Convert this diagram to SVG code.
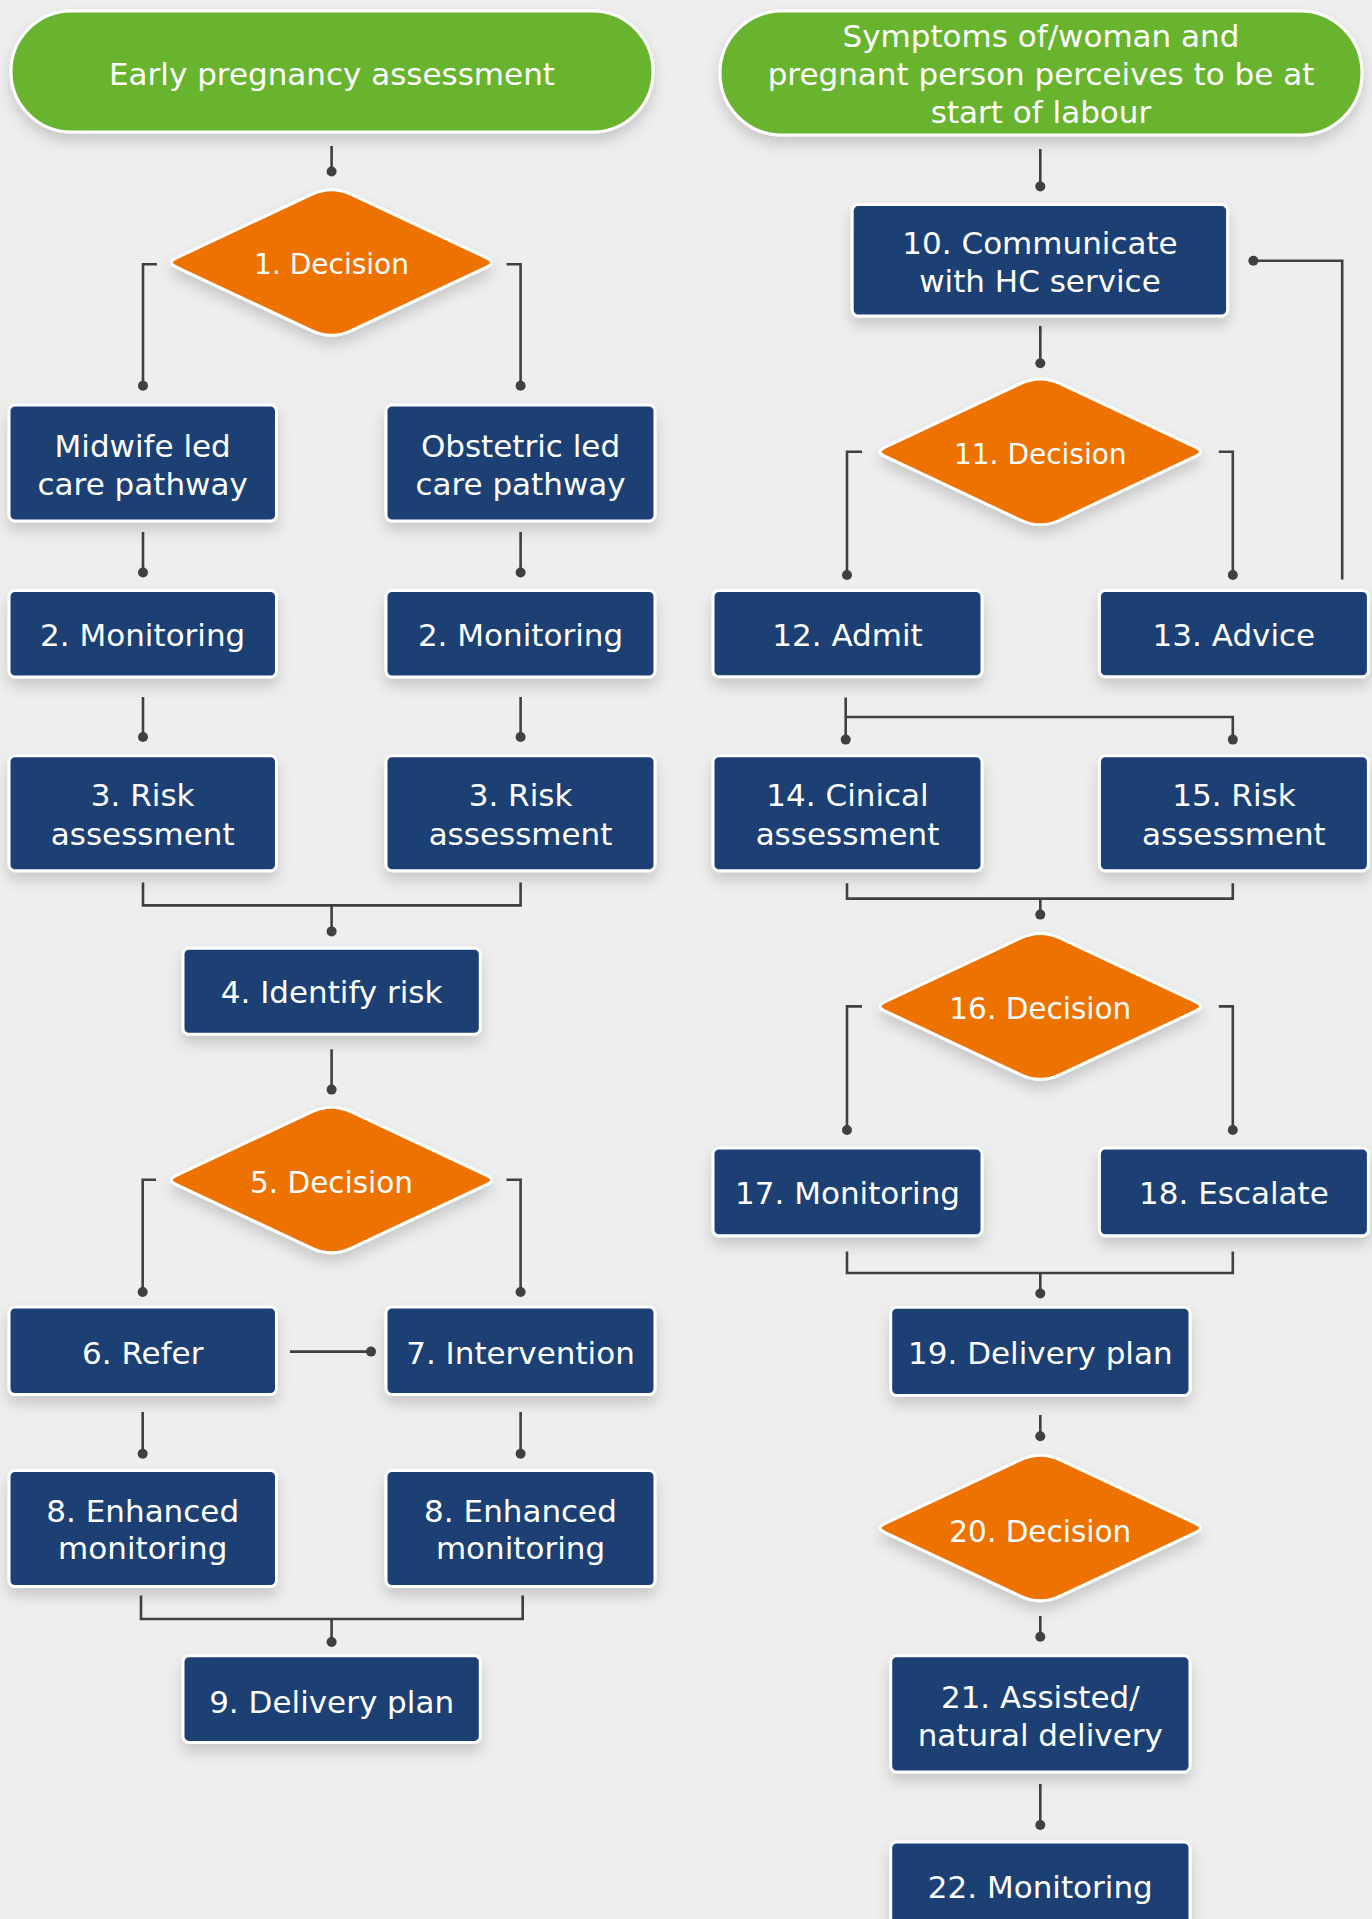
<svg xmlns="http://www.w3.org/2000/svg" xmlns:xlink="http://www.w3.org/1999/xlink" width="1372" height="1919" viewBox="0 0 1372 1919">
<style>
.bg{fill:#eeeeee}
.pill{fill:#68b42f;stroke:#ffffff;stroke-width:3;filter:url(#sh)}
.box{fill:#1c4073;stroke:#ffffff;stroke-width:3;filter:url(#sh)}
.dia{fill:#ee7203;stroke:#ffffff;stroke-width:3;filter:url(#sh)}
.t{fill:#ffffff;font-family:"DejaVu Sans","Liberation Sans",sans-serif;font-size:31px;text-anchor:middle}
.td{font-size:28px}
.tw{font-size:29.5px}
.c{fill:none;stroke:#404040;stroke-width:2.6}
.cd{marker-end:url(#dot)}
</style>
<defs>
<filter id="sh" x="-20%" y="-20%" width="140%" height="150%">
<feDropShadow dx="0" dy="8" stdDeviation="7" flood-color="#000000" flood-opacity="0.16"/>
</filter>
<marker id="dot" viewBox="-6 -6 12 12" markerWidth="12" markerHeight="12" markerUnits="userSpaceOnUse" refX="0" refY="0" orient="auto">
<circle r="5" fill="#404040"/>
</marker>
<path id="diamond" d="M-19.8,-68.2 Q0,-77.5 19.8,-68.2 L155.1,-4.65 Q165,0 155.1,4.65 L19.8,68.2 Q0,77.5 -19.8,68.2 L-155.1,4.65 Q-165,0 -155.1,-4.65 Z"/>
</defs>
<rect class="bg" x="0" y="0" width="1372" height="1919"/>

<g id="connectors">
<path class="c cd" d="M331.6,146 V171.5"/>
<path class="c cd" d="M157,264.3 H143 V385.7"/>
<path class="c cd" d="M506.5,264.3 H520.6 V385.7"/>
<path class="c cd" d="M143,532 V572.5"/>
<path class="c cd" d="M520.6,532 V572.5"/>
<path class="c cd" d="M143,697 V737"/>
<path class="c cd" d="M520.6,697 V737"/>
<path class="c" d="M143,882.5 V905.4 H520.6 V882.5"/>
<path class="c cd" d="M331.6,905.4 V931.4"/>
<path class="c cd" d="M331.6,1049.3 V1089.6"/>
<path class="c cd" d="M156,1179.7 H142.7 V1292"/>
<path class="c cd" d="M506.5,1179.7 H520.6 V1292"/>
<path class="c cd" d="M290,1351.6 H371"/>
<path class="c cd" d="M142.7,1412 V1453.7"/>
<path class="c cd" d="M520.6,1412 V1453.7"/>
<path class="c" d="M141,1595.5 V1619 H522.7 V1595.5"/>
<path class="c cd" d="M331.6,1619 V1642"/>

<path class="c cd" d="M1040.3,149 V186.4"/>
<path class="c cd" d="M1040.3,326 V363.2"/>
<path class="c cd" d="M1342.2,579.6 V260.7 H1253.4"/>
<path class="c cd" d="M862,451.8 H847 V575"/>
<path class="c cd" d="M1218.8,451.8 H1232.8 V575"/>
<path class="c cd" d="M845.7,697.5 V739.6"/>
<path class="c cd" d="M845.7,717 H1232.8 V739.6"/>
<path class="c" d="M847,883.2 V898.6 H1232.8 V883.2"/>
<path class="c cd" d="M1040.3,898.6 V914.6"/>
<path class="c cd" d="M862,1006.4 H847 V1130"/>
<path class="c cd" d="M1218.8,1006.4 H1232.8 V1130"/>
<path class="c" d="M847,1251.6 V1273 H1232.8 V1251.6"/>
<path class="c cd" d="M1040.3,1273 V1293.5"/>
<path class="c cd" d="M1040.3,1415 V1436.3"/>
<path class="c cd" d="M1040.3,1616 V1636.8"/>
<path class="c cd" d="M1040.3,1784 V1825"/>
</g>

<g id="start-early">
<rect class="pill" x="11" y="11" width="642" height="121" rx="60.5"/>
<text class="t" x="332" y="85">Early pregnancy assessment</text>
</g>
<g id="start-labour">
<rect class="pill" x="720" y="11" width="642" height="124" rx="62"/>
<text class="t" x="1041" y="46.5">Symptoms of/woman and</text>
<text class="t" x="1041" y="85">pregnant person perceives to be at</text>
<text class="t" x="1041" y="123">start of labour</text>
</g>

<g id="n1">
<use class="dia" xlink:href="#diamond" href="#diamond" x="331.5" y="262.5"/>
<text class="t td" x="331.5" y="274">1. Decision</text>
</g>
<g id="midwife">
<rect class="box" x="9" y="405" width="267.5" height="116" rx="6"/>
<text class="t" x="142.7" y="456.5">Midwife led</text>
<text class="t" x="142.7" y="494.5">care pathway</text>
</g>
<g id="obstetric">
<rect class="box" x="386" y="405" width="269" height="116" rx="6"/>
<text class="t" x="520.5" y="456.5">Obstetric led</text>
<text class="t" x="520.5" y="494.5">care pathway</text>
</g>
<g id="n2a">
<rect class="box" x="9" y="590.5" width="267.5" height="86.5" rx="6"/>
<text class="t" x="142.7" y="645.5">2. Monitoring</text>
</g>
<g id="n2b">
<rect class="box" x="386" y="590.5" width="269" height="86.5" rx="6"/>
<text class="t" x="520.5" y="645.5">2. Monitoring</text>
</g>
<g id="n3a">
<rect class="box" x="9" y="755.7" width="267.5" height="115" rx="6"/>
<text class="t" x="142.7" y="805.7">3. Risk</text>
<text class="t" x="142.7" y="844.5">assessment</text>
</g>
<g id="n3b">
<rect class="box" x="386" y="755.7" width="269" height="115" rx="6"/>
<text class="t" x="520.5" y="805.7">3. Risk</text>
<text class="t" x="520.5" y="844.5">assessment</text>
</g>
<g id="n4">
<rect class="box" x="183" y="948.2" width="297.3" height="86" rx="6"/>
<text class="t" x="331.6" y="1003">4. Identify risk</text>
</g>
<g id="n5">
<use class="dia" xlink:href="#diamond" href="#diamond" x="331.5" y="1180"/>
<text class="t tw" x="331.5" y="1193">5. Decision</text>
</g>
<g id="n6">
<rect class="box" x="9" y="1307" width="267.5" height="87.5" rx="6"/>
<text class="t" x="142.7" y="1363.5">6. Refer</text>
</g>
<g id="n7">
<rect class="box" x="386" y="1307" width="269" height="87.5" rx="6"/>
<text class="t" x="520.5" y="1363.5">7. Intervention</text>
</g>
<g id="n8a">
<rect class="box" x="9" y="1470.5" width="267.5" height="116" rx="6"/>
<text class="t" x="142.7" y="1522">8. Enhanced</text>
<text class="t" x="142.7" y="1559">monitoring</text>
</g>
<g id="n8b">
<rect class="box" x="386" y="1470.5" width="269" height="116" rx="6"/>
<text class="t" x="520.5" y="1522">8. Enhanced</text>
<text class="t" x="520.5" y="1559">monitoring</text>
</g>
<g id="n9">
<rect class="box" x="183" y="1655.7" width="297.3" height="86.7" rx="6"/>
<text class="t" x="331.6" y="1712.5">9. Delivery plan</text>
</g>

<g id="n10">
<rect class="box" x="852.2" y="204.6" width="375.4" height="111.4" rx="6"/>
<text class="t" x="1040" y="254">10. Communicate</text>
<text class="t" x="1040" y="292">with HC service</text>
</g>
<g id="n11">
<use class="dia" xlink:href="#diamond" href="#diamond" x="1040.3" y="451.8"/>
<text class="t td" x="1040.3" y="463.5">11. Decision</text>
</g>
<g id="n12">
<rect class="box" x="713" y="590.4" width="269" height="86.4" rx="6"/>
<text class="t" x="847.5" y="645.5">12. Admit</text>
</g>
<g id="n13">
<rect class="box" x="1099.4" y="590.4" width="269" height="86.4" rx="6"/>
<text class="t" x="1233.9" y="645.5">13. Advice</text>
</g>
<g id="n14">
<rect class="box" x="713" y="755.7" width="269" height="115" rx="6"/>
<text class="t" x="847.5" y="805.7">14. Cinical</text>
<text class="t" x="847.5" y="844.5">assessment</text>
</g>
<g id="n15">
<rect class="box" x="1099.4" y="755.7" width="269" height="115" rx="6"/>
<text class="t" x="1233.9" y="805.7">15. Risk</text>
<text class="t" x="1233.9" y="844.5">assessment</text>
</g>
<g id="n16">
<use class="dia" xlink:href="#diamond" href="#diamond" x="1040.3" y="1006.4"/>
<text class="t tw" x="1040.3" y="1018.5">16. Decision</text>
</g>
<g id="n17">
<rect class="box" x="713" y="1148" width="269" height="87.8" rx="6"/>
<text class="t" x="847.5" y="1204">17. Monitoring</text>
</g>
<g id="n18">
<rect class="box" x="1099.4" y="1148" width="269" height="87.8" rx="6"/>
<text class="t" x="1233.9" y="1204">18. Escalate</text>
</g>
<g id="n19">
<rect class="box" x="890.7" y="1307.2" width="299.3" height="88.3" rx="6"/>
<text class="t" x="1040.3" y="1363.5">19. Delivery plan</text>
</g>
<g id="n20">
<use class="dia" xlink:href="#diamond" href="#diamond" x="1040.3" y="1528"/>
<text class="t tw" x="1040.3" y="1541.5">20. Decision</text>
</g>
<g id="n21">
<rect class="box" x="890.7" y="1655.7" width="299.3" height="116.3" rx="6"/>
<text class="t" x="1040.3" y="1708">21. Assisted/</text>
<text class="t" x="1040.3" y="1746">natural delivery</text>
</g>
<g id="n22">
<rect class="box" x="890.7" y="1842" width="299.3" height="100" rx="6"/>
<text class="t" x="1040.3" y="1898">22. Monitoring</text>
</g>
</svg>
